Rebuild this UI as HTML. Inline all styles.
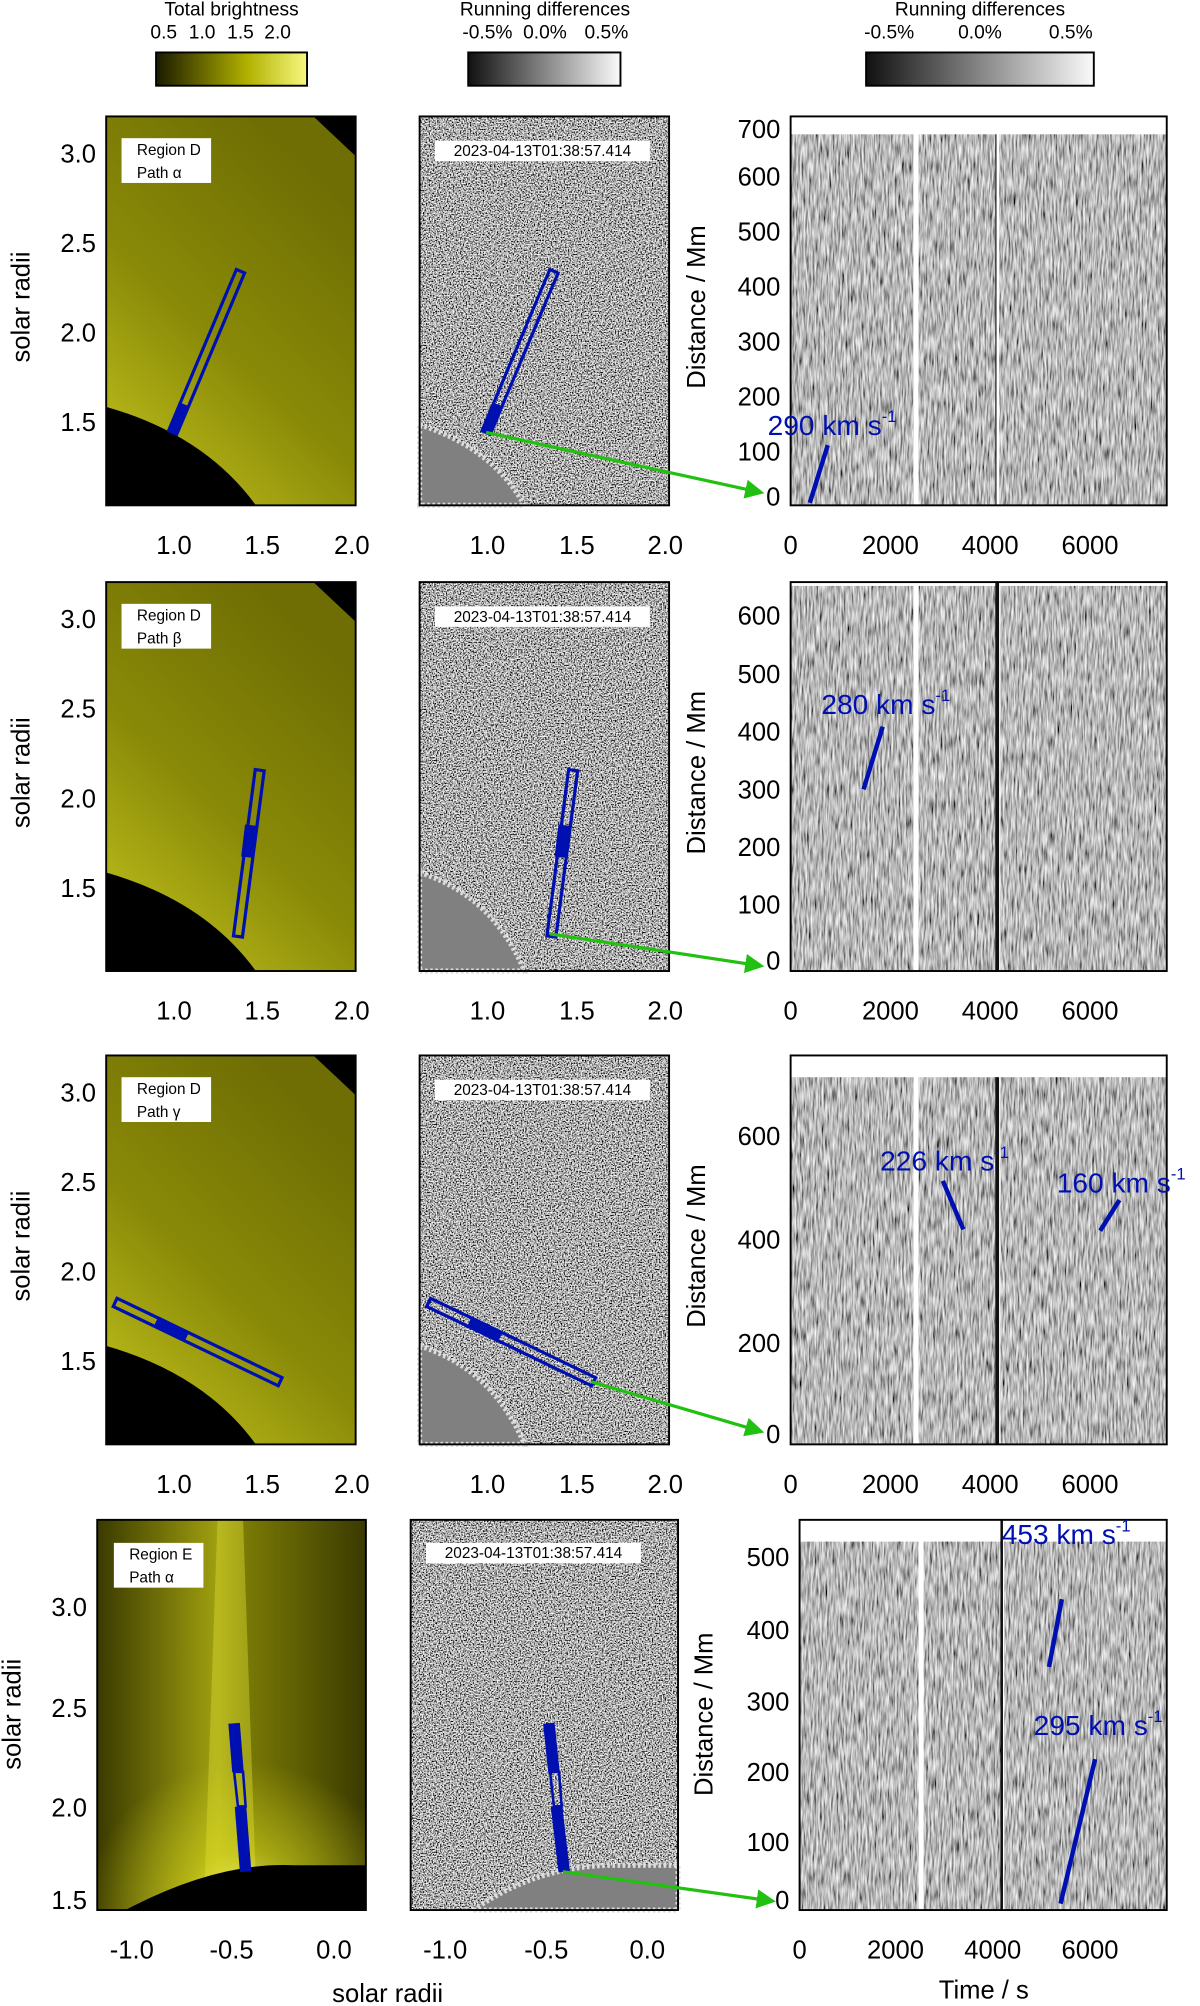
<!DOCTYPE html>
<html><head><meta charset="utf-8"><style>
html,body{margin:0;padding:0;background:#fff}
svg{display:block}
text{font-family:"Liberation Sans",sans-serif;fill:#000}
</style></head><body>
<svg width="1200" height="2006" viewBox="0 0 938 1568" preserveAspectRatio="none" xmlns="http://www.w3.org/2000/svg">
<defs>
<filter id="gn" x="0" y="0" width="100%" height="100%">
<feTurbulence type="fractalNoise" baseFrequency="0.9" numOctaves="2" seed="5" result="t"/>
<feColorMatrix in="t" type="matrix" values="2.6 0 0 0 -0.85  2.6 0 0 0 -0.85  2.6 0 0 0 -0.85  0 0 0 0 1"/>
</filter>
<filter id="sn" x="0" y="0" width="100%" height="100%">
<feTurbulence type="fractalNoise" baseFrequency="0.7 0.08" numOctaves="2" seed="9" result="t"/>
<feColorMatrix in="t" type="matrix" values="1.4 0 0 0 -0.22  1.4 0 0 0 -0.22  1.4 0 0 0 -0.22  0 0 0 0 1"/>
</filter>
<linearGradient id="yb" x1="0" x2="1"><stop offset="0" stop-color="#1a1a00"/><stop offset="0.6" stop-color="#b0b000"/><stop offset="1" stop-color="#f8f880"/></linearGradient>
<linearGradient id="gb" x1="0" x2="1"><stop offset="0" stop-color="#111"/><stop offset="1" stop-color="#fafafa"/></linearGradient>
<linearGradient id="yp" x1="0" y1="1" x2="0.6" y2="0"><stop offset="0" stop-color="#c8c820"/><stop offset="0.5" stop-color="#8a8a08"/><stop offset="1" stop-color="#6e6e04"/></linearGradient>
<linearGradient id="yp4" x1="0" x2="1"><stop offset="0" stop-color="#3a3a00"/><stop offset="0.45" stop-color="#a0a010"/><stop offset="0.55" stop-color="#7a7a06"/><stop offset="1" stop-color="#3a3a00"/></linearGradient>
<radialGradient id="glow" cx="0.55" cy="1" r="0.6"><stop offset="0" stop-color="#ffffa0" stop-opacity="0.9"/><stop offset="0.4" stop-color="#e0e020" stop-opacity="0.5"/><stop offset="1" stop-color="#e0e020" stop-opacity="0"/></radialGradient>
<marker id="ah" markerWidth="6" markerHeight="6" refX="5" refY="3" orient="auto"><path d="M0,0 L6,3 L0,6 z" fill="#22c010"/></marker>
</defs>

<g font-size="15" text-anchor="middle">
<text x="181" y="12">Total brightness</text>
<text x="426" y="12">Running differences</text>
<text x="766" y="12">Running differences</text>
<text x="128" y="30">0.5</text><text x="158" y="30">1.0</text><text x="188" y="30">1.5</text><text x="217" y="30">2.0</text>
<text x="381" y="30">-0.5%</text><text x="426" y="30">0.0%</text><text x="474" y="30">0.5%</text>
<text x="695" y="30">-0.5%</text><text x="766" y="30">0.0%</text><text x="837" y="30">0.5%</text>
</g>
<rect x="122" y="41" width="118" height="26" fill="url(#yb)" stroke="#000" stroke-width="1.5"/>
<rect x="366" y="41" width="119" height="26" fill="url(#gb)" stroke="#000" stroke-width="1.5"/>
<rect x="677" y="41" width="178" height="26" fill="url(#gb)" stroke="#000" stroke-width="1.5"/>

<!-- ROW 1 -->
<g>
<rect x="83" y="91" width="195" height="304" fill="url(#yp)"/>
<path d="M83,318 Q160,340 200,395 L83,395 Z" fill="#000"/>
<path d="M245,91 L278,91 L278,122 Z" fill="#000"/>
<rect x="83" y="91" width="195" height="304" fill="none" stroke="#000" stroke-width="1.5"/>
<rect x="95" y="108" width="70" height="35" fill="#fff"/>
<text x="107" y="121" font-size="12">Region D</text><text x="107" y="139" font-size="12">Path α</text>
<polygon points="138.2,339.4 191.2,213.4 184.8,210.6 131.8,336.6" fill="none" stroke="#0010b0" stroke-width="2.5"/>
<line x1="135" y1="338" x2="144" y2="316" stroke="#0010b0" stroke-width="8"/>
<rect x="328" y="91" width="195" height="304" fill="#808080" filter="url(#gn)"/>
<path d="M328,332 Q385,350 410,395 L328,395 Z" fill="#808080" stroke="#ddd" stroke-width="4" stroke-dasharray="2 2"/>
<rect x="328" y="91" width="195" height="304" fill="none" stroke="#000" stroke-width="1.5"/>
<rect x="340" y="110" width="168" height="16" fill="#fff"/>
<text x="424" y="122" font-size="12" text-anchor="middle">2023-04-13T01:38:57.414</text>
<polygon points="383.2,339.4 436.2,213.4 429.8,210.6 376.8,336.6" fill="none" stroke="#0010b0" stroke-width="2.5"/>
<line x1="380" y1="338" x2="389" y2="316" stroke="#0010b0" stroke-width="8"/>
<rect x="618" y="91" width="294" height="304" fill="#808080" filter="url(#sn)"/>
<rect x="618" y="91" width="294" height="14" fill="#fff"/>
<rect x="714" y="91" width="4" height="304" fill="#fff"/>
<rect x="778" y="105" width="1" height="290" fill="#222"/><rect x="779" y="91" width="2" height="304" fill="#fff"/>
<rect x="618" y="91" width="294" height="304" fill="none" stroke="#000" stroke-width="1.5"/>
<line x1="633" y1="393" x2="647" y2="348" stroke="#0010b0" stroke-width="3.5"/>
<text x="600" y="340" font-size="22" style="fill:#0010b0">290 km s<tspan font-size="13" dy="-10">-1</tspan></text>
<line x1="380" y1="338" x2="595" y2="385" stroke="#22c010" stroke-width="2.5" marker-end="url(#ah)"/>
<g font-size="20" text-anchor="end"><text x="75" y="127">3.0</text><text x="75" y="197">2.5</text><text x="75" y="267">2.0</text><text x="75" y="337">1.5</text>
<text x="610" y="108">700</text><text x="610" y="145">600</text><text x="610" y="188">500</text><text x="610" y="231">400</text><text x="610" y="274">300</text><text x="610" y="317">200</text><text x="610" y="360">100</text><text x="610" y="395">0</text></g>
<g font-size="20" text-anchor="middle"><text x="136" y="433">1.0</text><text x="205" y="433">1.5</text><text x="275" y="433">2.0</text>
<text x="381" y="433">1.0</text><text x="451" y="433">1.5</text><text x="520" y="433">2.0</text>
<text x="618" y="433">0</text><text x="696" y="433">2000</text><text x="774" y="433">4000</text><text x="852" y="433">6000</text></g>
<text transform="translate(23,240) rotate(-90)" font-size="20" text-anchor="middle">solar radii</text>
<text transform="translate(551,240) rotate(-90)" font-size="20" text-anchor="middle">Distance / Mm</text>
</g>

<!-- ROW 2 -->
<g>
<rect x="83" y="455" width="195" height="304" fill="url(#yp)"/>
<path d="M83,682 Q160,704 200,759 L83,759 Z" fill="#000"/>
<path d="M245,455 L278,455 L278,486 Z" fill="#000"/>
<rect x="83" y="455" width="195" height="304" fill="none" stroke="#000" stroke-width="1.5"/>
<rect x="95" y="472" width="70" height="35" fill="#fff"/>
<text x="107" y="485" font-size="12">Region D</text><text x="107" y="503" font-size="12">Path β</text>
<polygon points="189.5,732.5 206.5,602.5 199.5,601.5 182.5,731.5" fill="none" stroke="#0010b0" stroke-width="2.5"/>
<line x1="193" y1="670" x2="196" y2="645" stroke="#0010b0" stroke-width="9"/>
<rect x="328" y="455" width="195" height="304" fill="#808080" filter="url(#gn)"/>
<path d="M328,682 Q385,700 410,759 L328,759 Z" fill="#808080" stroke="#ddd" stroke-width="4" stroke-dasharray="2 2"/>
<rect x="328" y="455" width="195" height="304" fill="none" stroke="#000" stroke-width="1.5"/>
<rect x="340" y="474" width="168" height="16" fill="#fff"/>
<text x="424" y="486" font-size="12" text-anchor="middle">2023-04-13T01:38:57.414</text>
<polygon points="434.5,732.5 451.5,602.5 444.5,601.5 427.5,731.5" fill="none" stroke="#0010b0" stroke-width="2.5"/>
<line x1="438" y1="670" x2="441" y2="645" stroke="#0010b0" stroke-width="9"/>
<rect x="618" y="455" width="294" height="304" fill="#808080" filter="url(#sn)"/>
<rect x="618" y="455" width="294" height="3" fill="#fff"/>
<rect x="714" y="455" width="4" height="304" fill="#fff"/>
<rect x="778" y="455" width="3" height="304" fill="#111"/><rect x="781" y="455" width="1" height="304" fill="#fff"/>
<rect x="618" y="455" width="294" height="304" fill="none" stroke="#000" stroke-width="1.5"/>
<line x1="675" y1="617" x2="690" y2="568" stroke="#0010b0" stroke-width="3.5"/>
<text x="642" y="558" font-size="22" style="fill:#0010b0">280 km s<tspan font-size="13" dy="-10">-1</tspan></text>
<line x1="430" y1="730" x2="595" y2="755" stroke="#22c010" stroke-width="2.5" marker-end="url(#ah)"/>
<g font-size="20" text-anchor="end"><text x="75" y="491">3.0</text><text x="75" y="561">2.5</text><text x="75" y="631">2.0</text><text x="75" y="701">1.5</text>
<text x="610" y="488">600</text><text x="610" y="534">500</text><text x="610" y="579">400</text><text x="610" y="624">300</text><text x="610" y="669">200</text><text x="610" y="714">100</text><text x="610" y="758">0</text></g>
<g font-size="20" text-anchor="middle"><text x="136" y="797">1.0</text><text x="205" y="797">1.5</text><text x="275" y="797">2.0</text>
<text x="381" y="797">1.0</text><text x="451" y="797">1.5</text><text x="520" y="797">2.0</text>
<text x="618" y="797">0</text><text x="696" y="797">2000</text><text x="774" y="797">4000</text><text x="852" y="797">6000</text></g>
<text transform="translate(23,604) rotate(-90)" font-size="20" text-anchor="middle">solar radii</text>
<text transform="translate(551,604) rotate(-90)" font-size="20" text-anchor="middle">Distance / Mm</text>
</g>

<!-- ROW 3 -->
<g>
<rect x="83" y="825" width="195" height="304" fill="url(#yp)"/>
<path d="M83,1052 Q160,1074 200,1129 L83,1129 Z" fill="#000"/>
<path d="M245,825 L278,825 L278,856 Z" fill="#000"/>
<rect x="83" y="825" width="195" height="304" fill="none" stroke="#000" stroke-width="1.5"/>
<rect x="95" y="842" width="70" height="35" fill="#fff"/>
<text x="107" y="855" font-size="12">Region D</text><text x="107" y="873" font-size="12">Path γ</text>
<polygon points="91.5,1014.8 220.5,1076.8 217.5,1083.2 88.5,1021.2" fill="none" stroke="#0010b0" stroke-width="2.5"/>
<path d="M122,1033 L146,1045" stroke="#0010b0" stroke-width="9"/>
<rect x="328" y="825" width="195" height="304" fill="#808080" filter="url(#gn)"/>
<path d="M328,1052 Q385,1070 410,1129 L328,1129 Z" fill="#808080" stroke="#ddd" stroke-width="4" stroke-dasharray="2 2"/>
<rect x="328" y="825" width="195" height="304" fill="none" stroke="#000" stroke-width="1.5"/>
<rect x="340" y="844" width="168" height="16" fill="#fff"/>
<text x="424" y="856" font-size="12" text-anchor="middle">2023-04-13T01:38:57.414</text>
<polygon points="336.5,1014.8 465.5,1076.8 462.5,1083.2 333.5,1021.2" fill="none" stroke="#0010b0" stroke-width="2.5"/>
<path d="M367,1033 L391,1045" stroke="#0010b0" stroke-width="9"/>
<rect x="618" y="825" width="294" height="304" fill="#808080" filter="url(#sn)"/>
<rect x="618" y="825" width="294" height="17" fill="#fff"/>
<rect x="714" y="825" width="4" height="304" fill="#fff"/>
<rect x="778" y="842" width="3" height="287" fill="#111"/><rect x="781" y="825" width="1" height="304" fill="#fff"/>
<rect x="618" y="825" width="294" height="304" fill="none" stroke="#000" stroke-width="1.5"/>
<line x1="737" y1="923" x2="753" y2="961" stroke="#0010b0" stroke-width="3.5"/>
<line x1="875" y1="938" x2="860" y2="962" stroke="#0010b0" stroke-width="3.5"/>
<text x="688" y="915" font-size="22" style="fill:#0010b0">226 km s<tspan font-size="13" dy="-10">-1</tspan></text>
<text x="826" y="932" font-size="22" style="fill:#0010b0">160 km s<tspan font-size="13" dy="-10">-1</tspan></text>
<line x1="462" y1="1080" x2="595" y2="1119" stroke="#22c010" stroke-width="2.5" marker-end="url(#ah)"/>
<g font-size="20" text-anchor="end"><text x="75" y="861">3.0</text><text x="75" y="931">2.5</text><text x="75" y="1001">2.0</text><text x="75" y="1071">1.5</text>
<text x="610" y="895">600</text><text x="610" y="976">400</text><text x="610" y="1057">200</text><text x="610" y="1128">0</text></g>
<g font-size="20" text-anchor="middle"><text x="136" y="1167">1.0</text><text x="205" y="1167">1.5</text><text x="275" y="1167">2.0</text>
<text x="381" y="1167">1.0</text><text x="451" y="1167">1.5</text><text x="520" y="1167">2.0</text>
<text x="618" y="1167">0</text><text x="696" y="1167">2000</text><text x="774" y="1167">4000</text><text x="852" y="1167">6000</text></g>
<text transform="translate(23,974) rotate(-90)" font-size="20" text-anchor="middle">solar radii</text>
<text transform="translate(551,974) rotate(-90)" font-size="20" text-anchor="middle">Distance / Mm</text>
</g>

<!-- ROW 4 -->
<g>
<rect x="76" y="1188" width="210" height="305" fill="url(#yp4)"/>
<path d="M170,1188 L190,1188 L200,1470 L160,1470 Z" fill="#d8d830" opacity=".45"/>
<rect x="76" y="1300" width="210" height="193" fill="url(#glow)"/>
<path d="M98,1493 Q170,1455 230,1458 L286,1458 L286,1493 Z" fill="#000"/>
<rect x="76" y="1188" width="210" height="305" fill="none" stroke="#000" stroke-width="1.5"/>
<rect x="89" y="1206" width="70" height="35" fill="#fff"/>
<text x="101" y="1219" font-size="12">Region E</text><text x="101" y="1237" font-size="12">Path α</text>
<path d="M183,1347 L186,1385" stroke="#0010b0" stroke-width="9"/>
<path d="M188,1412 L192,1463" stroke="#0010b0" stroke-width="9"/>
<polygon points="183,1385 190,1385 192,1412 186,1412" fill="none" stroke="#0010b0" stroke-width="2"/>
<rect x="321" y="1188" width="209" height="305" fill="#808080" filter="url(#gn)"/>
<path d="M370,1493 Q420,1458 480,1458 L530,1458 L530,1493 Z" fill="#808080" stroke="#ddd" stroke-width="4" stroke-dasharray="2 2"/>
<rect x="321" y="1188" width="209" height="305" fill="none" stroke="#000" stroke-width="1.5"/>
<rect x="333" y="1206" width="168" height="16" fill="#fff"/>
<text x="417" y="1218" font-size="12" text-anchor="middle">2023-04-13T01:38:57.414</text>
<path d="M429,1347 L433,1385" stroke="#0010b0" stroke-width="9"/>
<path d="M435,1412 L441,1463" stroke="#0010b0" stroke-width="9"/>
<polygon points="430,1385 437,1385 439,1412 433,1412" fill="none" stroke="#0010b0" stroke-width="2"/>
<rect x="625" y="1188" width="287" height="305" fill="#808080" filter="url(#sn)"/>
<rect x="625" y="1188" width="287" height="17" fill="#fff"/>
<rect x="718" y="1188" width="4" height="305" fill="#fff"/>
<rect x="782" y="1188" width="2" height="305" fill="#111"/><rect x="784" y="1188" width="1" height="305" fill="#fff"/>
<rect x="625" y="1188" width="287" height="305" fill="none" stroke="#000" stroke-width="1.5"/>
<line x1="820" y1="1303" x2="830" y2="1250" stroke="#0010b0" stroke-width="3.5"/>
<line x1="829" y1="1488" x2="856" y2="1375" stroke="#0010b0" stroke-width="3.5"/>
<text x="783" y="1207" font-size="22" style="fill:#0010b0">453 km s<tspan font-size="13" dy="-10">-1</tspan></text>
<text x="808" y="1356" font-size="22" style="fill:#0010b0">295 km s<tspan font-size="13" dy="-10">-1</tspan></text>
<line x1="440" y1="1463" x2="604" y2="1486" stroke="#22c010" stroke-width="2.5" marker-end="url(#ah)"/>
<g font-size="20" text-anchor="end"><text x="68" y="1263">3.0</text><text x="68" y="1342">2.5</text><text x="68" y="1420">2.0</text><text x="68" y="1492">1.5</text>
<text x="617" y="1224">500</text><text x="617" y="1281">400</text><text x="617" y="1337">300</text><text x="617" y="1392">200</text><text x="617" y="1447">100</text><text x="617" y="1492">0</text></g>
<g font-size="20" text-anchor="middle"><text x="103" y="1531">-1.0</text><text x="181" y="1531">-0.5</text><text x="261" y="1531">0.0</text>
<text x="348" y="1531">-1.0</text><text x="427" y="1531">-0.5</text><text x="506" y="1531">0.0</text>
<text x="625" y="1531">0</text><text x="700" y="1531">2000</text><text x="776" y="1531">4000</text><text x="852" y="1531">6000</text></g>
<text transform="translate(16,1340) rotate(-90)" font-size="20" text-anchor="middle">solar radii</text>
<text transform="translate(557,1340) rotate(-90)" font-size="20" text-anchor="middle">Distance / Mm</text>
<text x="303" y="1565" font-size="20" text-anchor="middle">solar radii</text>
<text x="769" y="1562" font-size="20" text-anchor="middle">Time / s</text>
</g>
</svg>
</body></html>
